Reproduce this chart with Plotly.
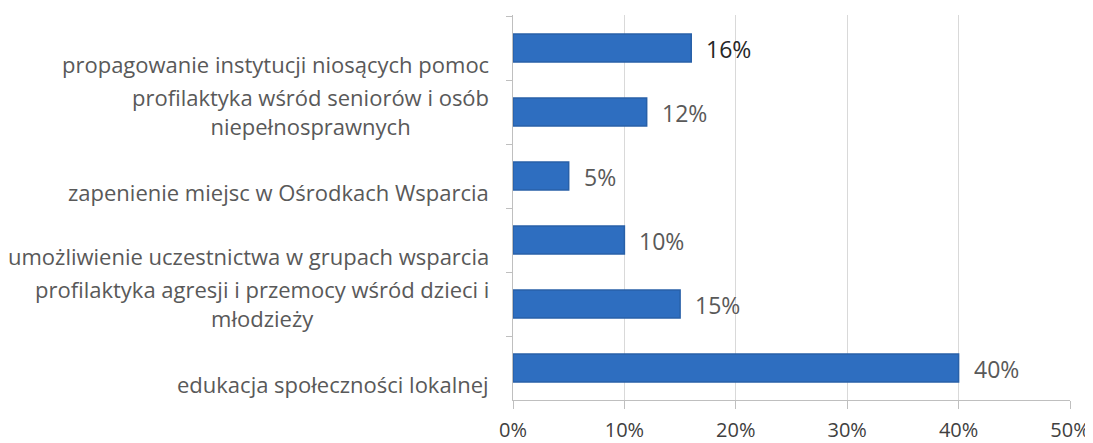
import plotly.graph_objects as go

categories = [
    "propagowanie instytucji niosących pomoc",
    "profilaktyka wśród seniorów i osób<br>niepełnosprawnych",
    "zapenienie miejsc w Ośrodkach Wsparcia",
    "umożliwienie uczestnictwa w grupach wsparcia",
    "profilaktyka agresji i przemocy wśród dzieci i<br>młodzieży",
    "edukacja społeczności lokalnej",
]
values = [16, 12, 5, 10, 15, 40]
x_ticks = [0, 10, 20, 30, 40, 50]
x_tick_labels = ["0%", "10%", "20%", "30%", "40%", "50%"]

FONT = "Open Sans"
label_colors = ["#262626"] + ["#595959"] * (len(values) - 1)

fig = go.Figure()
fig.add_trace(go.Bar(
    y=categories,
    x=values,
    orientation="h",
    marker=dict(color="#2E6EC0", line=dict(color="#2860A8", width=1.5)),
    hoverinfo="skip",
))

# value labels
for cat, v, col in zip(categories, values, label_colors):
    fig.add_annotation(
        x=v, xref="x", y=cat, yref="y",
        text=f"{v}%", showarrow=False,
        xanchor="left", yanchor="middle", xshift=13, yshift=-1,
        font=dict(family=FONT, size=23, color=col),
    )

# category labels
for cat in categories:
    single = "<br>" not in cat
    fig.add_annotation(
        x=0, xref="paper", y=cat, yref="y",
        text=cat, showarrow=False,
        xanchor="right", yanchor="middle", align="center",
        xshift=-22, yshift=-16 if single else 1,
        font=dict(family=FONT, size=22, color="#595959"),
    )

# page body has an 8px offset; margins compensate so the plot area sits at x 513-1070, y 15-400
fig.update_layout(
    width=1093, height=443,
    margin=dict(l=505, r=31, t=7, b=51, autoexpand=False),
    paper_bgcolor="white", plot_bgcolor="white",
    showlegend=False,
    bargap=0.56,
)
fig.update_xaxes(
    range=[0, 50], tickvals=x_ticks, ticktext=x_tick_labels,
    showgrid=True, gridcolor="#D9D9D9", gridwidth=1,
    showline=True, linecolor="#BFBFBF", linewidth=1,
    ticks="outside", ticklen=8, tickcolor="#BFBFBF",
    ticklabelstandoff=4,
    tickfont=dict(family=FONT, size=20, color="#404040"),
    zeroline=False, fixedrange=True, automargin=False,
)
fig.update_yaxes(
    autorange="reversed", showticklabels=False,
    showline=True, linecolor="#BFBFBF", linewidth=1,
    ticks="outside", ticklen=6, tickcolor="#BFBFBF", tickson="boundaries",
    showgrid=False, fixedrange=True, automargin=False,
)

fig.write_html("out.html")
